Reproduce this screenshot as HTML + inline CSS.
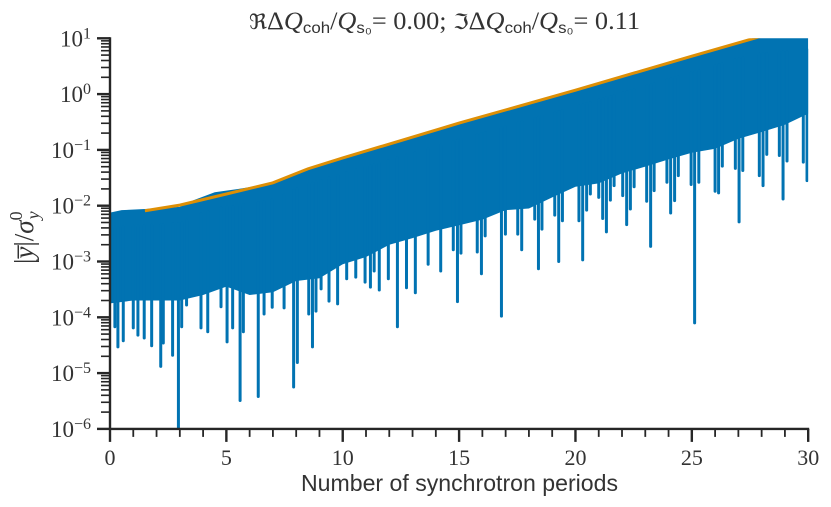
<!DOCTYPE html>
<html lang="en">
<head>
<meta charset="utf-8">
<title>Beam centroid growth</title>
<style>
html,body{margin:0;padding:0;background:#fff;width:831px;height:507px;overflow:hidden}
svg{display:block}
text{fill:#333;font-family:"Liberation Serif","DejaVu Serif",serif}
.sans{font-family:"Liberation Sans","DejaVu Sans",sans-serif}
</style>
</head>
<body>
<svg id="chart" width="831" height="507" viewBox="0 0 831 507" xmlns="http://www.w3.org/2000/svg">
  <defs><clipPath id="plot-clip"><rect x="110" y="38.3" width="698.2" height="389.7"/></clipPath></defs>
  <g id="series-layer" clip-path="url(#plot-clip)"></g>
  <g id="axis-layer"></g>
  <text x="249" y="29" font-size="25" textLength="391" lengthAdjust="spacingAndGlyphs"><tspan font-family="DejaVu Serif" font-size="21">ℜ</tspan>Δ<tspan font-style="italic">Q</tspan><tspan class="sans" font-size="16" dy="4">coh</tspan><tspan dy="-4">/</tspan><tspan font-style="italic">Q</tspan><tspan class="sans" font-size="16" dy="4">s₀</tspan><tspan dy="-4">= 0.00; </tspan><tspan font-family="DejaVu Serif" font-size="21">ℑ</tspan>Δ<tspan font-style="italic">Q</tspan><tspan class="sans" font-size="16" dy="4">coh</tspan><tspan dy="-4">/</tspan><tspan font-style="italic">Q</tspan><tspan class="sans" font-size="16" dy="4">s₀</tspan><tspan dy="-4">= 0.11</tspan></text>
  <text class="sans" x="301" y="491" font-size="23" textLength="317" lengthAdjust="spacingAndGlyphs">Number of synchrotron periods</text>
  <text transform="translate(33,264) rotate(-90)" font-size="27">|<tspan font-style="italic">y̅</tspan>|/<tspan font-style="italic">σ</tspan><tspan font-size="18" font-style="italic" dy="6" dx="1">y</tspan><tspan font-size="18" dy="-17" dx="-9">0</tspan></text>
</svg>
<script>
// Tick labels
const xTickLabels = [0, 5, 10, 15, 20, 25, 30];
const yTickDecades = [1, 0, -1, -2, -3, -4, -5, -6];

// Blue series upper envelope (period, log10 amplitude)
const upperPeriods = [0, 0.5, 1.5, 3, 3.6, 4.5, 5.5, 7, 7.5, 8.5, 10, 15, 20, 25, 27.6, 30];
const upperLog10 = [-2.125, -2.08, -2.06, -2.02, -1.9, -1.76, -1.7, -1.6, -1.5, -1.32, -1.13, -0.52, 0.07, 0.68, 1, 1.1];

// Blue series solid floor (period, log10 amplitude)
const floorPeriods = [0, 1, 2, 3, 4, 5, 6, 7, 8, 9, 10, 11, 12, 13, 14, 15, 16, 17, 18, 19, 20, 21, 22, 23, 24, 25, 26, 27, 28, 29, 30];
const floorLog10 = [-3.75, -3.7, -3.7, -3.7, -3.6, -3.45, -3.6, -3.55, -3.35, -3.3, -3.05, -2.92, -2.7, -2.58, -2.45, -2.35, -2.25, -2.08, -2.05, -1.85, -1.66, -1.6, -1.42, -1.3, -1.17, -1.05, -0.98, -0.8, -0.68, -0.55, -0.35];

// Blue series downward dips (period, log10 amplitude)
const dipPeriods = [0.21, 0.34, 0.57, 1.0, 1.2, 1.47, 1.79, 2.18, 2.29, 2.69, 2.94, 3.08, 3.29, 3.91, 4.2, 4.77, 5.03, 5.27, 5.59, 5.73, 6.37, 6.62, 6.97, 7.48, 7.89, 8.05, 8.54, 8.7, 8.85, 9.07, 9.41, 9.78, 10.17, 10.56, 10.96, 11.19, 11.35, 11.57, 11.96, 12.35, 12.74, 13.12, 13.67, 14.21, 14.75, 14.93, 15.08, 15.78, 15.96, 16.12, 16.82, 16.99, 17.52, 17.69, 18.25, 18.41, 18.56, 19.11, 19.28, 19.44, 20.15, 20.31, 20.48, 20.64, 21.0, 21.17, 21.33, 21.5, 21.66, 22.03, 22.2, 22.36, 22.52, 23.06, 23.23, 23.38, 23.93, 24.09, 24.26, 24.42, 24.97, 25.12, 25.3, 26.0, 26.15, 26.31, 26.87, 27.03, 27.19, 27.9, 28.06, 28.22, 28.76, 28.92, 29.09, 29.79, 29.95];
const dipLog10 = [-4.17, -4.53, -4.42, -4.19, -4.32, -4.37, -4.51, -4.88, -4.46, -4.68, -6.1, -4.17, -3.78, -4.19, -4.26, -3.81, -4.44, -4.19, -5.49, -4.26, -5.42, -3.94, -3.82, -3.83, -5.25, -4.81, -3.94, -4.53, -3.89, -3.49, -3.71, -3.76, -3.31, -3.28, -3.37, -3.46, -3.17, -3.51, -3.31, -4.17, -3.47, -3.56, -3.05, -3.17, -2.79, -3.72, -2.85, -2.83, -3.22, -2.54, -3.98, -2.51, -2.51, -2.79, -2.24, -3.13, -2.42, -2.17, -3.0, -2.27, -2.27, -2.97, -2.08, -1.79, -1.85, -2.23, -2.47, -1.9, -1.64, -1.82, -2.34, -2.06, -1.66, -1.92, -2.73, -1.73, -1.58, -2.13, -1.91, -1.46, -1.62, -4.1, -1.58, -1.74, -1.77, -1.29, -1.33, -2.29, -1.37, -1.46, -1.64, -1.08, -1.1, -1.88, -1.2, -1.22, -1.55];

// Orange fitted growth line (period, log10 amplitude)
const fitPeriods = [1.5, 3, 5, 7, 8.5, 10, 15, 20, 25, 27.6, 28.5];
const fitLog10 = [-2.09, -1.99, -1.79, -1.59, -1.34, -1.145, -0.52, 0.07, 0.68, 0.99, 1.1];

const NS = 'http://www.w3.org/2000/svg';
const X0 = 110, PX_PER_PERIOD = 23.273, Y_TOP = 38.3, PX_PER_DECADE = 55.8;
const xAt = t => X0 + t * PX_PER_PERIOD;
const yAt = d => Y_TOP + (1 - d) * PX_PER_DECADE;
const BLUE = '#0173b2', ORANGE = '#de8f05', INK = '#262626';
const seriesLayer = document.getElementById('series-layer');
const axisLayer = document.getElementById('axis-layer');

function make(tag, attrs, parent) {
  const el = document.createElementNS(NS, tag);
  for (const k in attrs) el.setAttribute(k, attrs[k]);
  parent.appendChild(el);
  return el;
}

function upperAt(t) {
  for (let i = 1; i < upperPeriods.length; i++) {
    if (t <= upperPeriods[i]) {
      const f = (t - upperPeriods[i - 1]) / (upperPeriods[i] - upperPeriods[i - 1]);
      return upperLog10[i - 1] + f * (upperLog10[i] - upperLog10[i - 1]);
    }
  }
  return upperLog10[upperLog10.length - 1];
}

// Solid blue body
const bodyPts = upperPeriods.map((t, i) => xAt(t) + ',' + yAt(upperLog10[i]))
  .concat(floorPeriods.map((t, i) => xAt(t) + ',' + yAt(floorLog10[i])).reverse());
const body = make('polygon', {points: bodyPts.join(' '), fill: BLUE}, seriesLayer);



// Dips: each runs from inside the body down to its minimum
dipPeriods.forEach((t, i) => {
  const dip = make('line', {x1: xAt(t), x2: xAt(t), y1: yAt(upperAt(t) - 0.3), y2: yAt(dipLog10[i]), stroke: BLUE, 'stroke-width': 3, 'stroke-linecap': 'round'}, seriesLayer);
  
  
});

// Fit line
const fit = make('polyline', {points: fitPeriods.map((t, i) => xAt(t) + ',' + yAt(fitLog10[i])).join(' '), fill: 'none', stroke: ORANGE, 'stroke-width': 3}, seriesLayer);



// Spines
const yMin = yTickDecades[yTickDecades.length - 1], yMax = yTickDecades[0];
const leftSpine = make('line', {x1: X0, x2: X0, y1: yAt(yMax) - 1, y2: yAt(yMin) + 1, stroke: INK, 'stroke-width': 2.4}, axisLayer);


const xMax = xTickLabels[xTickLabels.length - 1];
const bottomSpine = make('line', {x1: X0 - 1, x2: xAt(xMax) + 1, y1: yAt(yMin), y2: yAt(yMin), stroke: INK, 'stroke-width': 2.4}, axisLayer);



// X ticks
for (let t = 0; t <= xMax; t++) {
  const major = xTickLabels.includes(t);
  const tick = make('line', {x1: xAt(t), x2: xAt(t), y1: yAt(yMin), y2: yAt(yMin) + (major ? 13 : 8), stroke: INK, 'stroke-width': major ? 2.4 : 1.8}, axisLayer);
  
  
}
xTickLabels.forEach(v => {
  const label = make('text', {x: xAt(v), y: yAt(yMin) + 36, 'font-size': 22, 'text-anchor': 'middle'}, axisLayer);
  label.textContent = String(v);
  
  
});

// Y ticks
yTickDecades.forEach(d => {
  const tick = make('line', {x1: X0 - 13, x2: X0, y1: yAt(d), y2: yAt(d), stroke: INK, 'stroke-width': 2.4}, axisLayer);
  
  
  if (d > yMin) {
    for (let m = 2; m <= 9; m++) {
      const minor = make('line', {x1: X0 - 9, x2: X0, y1: yAt(d - 1 + Math.log10(m)), y2: yAt(d - 1 + Math.log10(m)), stroke: INK, 'stroke-width': 1.6}, axisLayer);
      
      
    }
  }
  const label = make('text', {x: 91, y: yAt(d) + 8, 'font-size': 23, 'text-anchor': 'end'}, axisLayer);
  
  
  label.appendChild(document.createTextNode('10'));
  const exp = make('tspan', {'font-size': 16, dy: -8}, label);
  exp.textContent = String(d).replace('-', '\u2212');
});
</script>
</body>
</html>
